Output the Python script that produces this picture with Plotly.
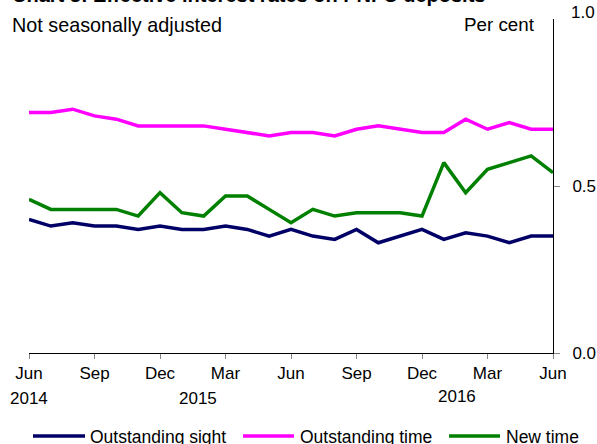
import plotly.graph_objects as go

months = ["Jun 2014", "Jul 2014", "Aug 2014", "Sep 2014", "Oct 2014", "Nov 2014", "Dec 2014",
          "Jan 2015", "Feb 2015", "Mar 2015", "Apr 2015", "May 2015", "Jun 2015", "Jul 2015",
          "Aug 2015", "Sep 2015", "Oct 2015", "Nov 2015", "Dec 2015", "Jan 2016", "Feb 2016",
          "Mar 2016", "Apr 2016", "May 2016", "Jun 2016"]
outstanding_sight = [0.40, 0.38, 0.39, 0.38, 0.38, 0.37, 0.38, 0.37, 0.37, 0.38, 0.37, 0.35, 0.37,
                     0.35, 0.34, 0.37, 0.33, 0.35, 0.37, 0.34, 0.36, 0.35, 0.33, 0.35, 0.35]
outstanding_time = [0.72, 0.72, 0.73, 0.71, 0.70, 0.68, 0.68, 0.68, 0.68, 0.67, 0.66, 0.65, 0.66,
                    0.66, 0.65, 0.67, 0.68, 0.67, 0.66, 0.66, 0.70, 0.67, 0.69, 0.67, 0.67]
new_time = [0.46, 0.43, 0.43, 0.43, 0.43, 0.41, 0.48, 0.42, 0.41, 0.47, 0.47, 0.43, 0.39,
            0.43, 0.41, 0.42, 0.42, 0.42, 0.41, 0.57, 0.48, 0.55, 0.57, 0.59, 0.54]
tick_months = ["Jun 2014", "Sep 2014", "Dec 2014", "Mar 2015", "Jun 2015", "Sep 2015",
               "Dec 2015", "Mar 2016", "Jun 2016"]
tick_text = ["Jun", "Sep", "Dec", "Mar", "Jun", "Sep", "Dec", "Mar", "Jun"]
year_labels = ["2014", "2015", "2016"]
y_ticks = [0.0, 0.5, 1.0]
y_tick_text = ["0.0", "0.5", "1.0"]

series = [("Outstanding sight", outstanding_sight, "#000066"),
          ("Outstanding time", outstanding_time, "#FF00FF"),
          ("New time", new_time, "#008000")]

W, H = 597, 444
L, R, T, B = 29, 44, 19, 91
pw, ph = W - L - R, H - T - B

def px(xp):
    return (xp - L) / pw

def py(yp):
    return (H - B - yp) / ph

FONT = "Liberation Sans, Arial, sans-serif"

fig = go.Figure()
for name, vals, col in series:
    fig.add_trace(go.Scatter(x=months, y=vals, mode="lines", name=name,
                             line=dict(color=col, width=3.5), showlegend=False))

fig.update_layout(
    width=W, height=H, margin=dict(l=L, r=R, t=T, b=B, autoexpand=False),
    paper_bgcolor="white", plot_bgcolor="white",
    font=dict(family=FONT, size=17, color="black"),
    xaxis=dict(type="category", range=[0, len(months) - 1], showgrid=False, zeroline=False,
               showline=True, linecolor="black", linewidth=1, automargin=False,
               tickmode="array", tickvals=tick_months, ticktext=tick_text,
               ticks="outside", ticklen=5, tickcolor="#888888", tickfont=dict(size=17)),
    yaxis=dict(range=[0, 1], side="right", showgrid=False, zeroline=False,
               showline=True, linecolor="black", linewidth=1, automargin=False,
               tickmode="array", tickvals=y_ticks[:2], ticktext=y_tick_text[:2],
               ticks="outside", ticklen=6, tickcolor="#888888", tickfont=dict(size=17),
               ticklabelstandoff=9),
)

ann = []
# title (cut off at top, as in the reference)
ann.append(dict(text="<b>Chart 3: Effective interest rates on PNFC deposits</b>", x=px(10), y=py(3.5),
                xref="paper", yref="paper", xanchor="left", yanchor="bottom", showarrow=False,
                font=dict(size=20), yshift=-4))
ann.append(dict(text="Not seasonally adjusted", x=px(10), y=py(24.5), xref="paper", yref="paper",
                xanchor="left", yanchor="middle", showarrow=False, font=dict(size=19.8)))
ann.append(dict(text="Per cent", x=px(537), y=py(24.5), xref="paper", yref="paper",
                xanchor="right", yanchor="middle", showarrow=False, font=dict(size=18.8)))
ann.append(dict(text=y_tick_text[2], x=1, y=1, xref="paper", yref="paper", xanchor="left",
                yanchor="middle", xshift=16, yshift=7, showarrow=False, font=dict(size=17)))
# year labels
for yr, xc, yc in zip(year_labels, [28.7, 197.7, 457.3], [398.3, 398.3, 396.7]):
    ann.append(dict(text=yr, x=px(xc), y=py(yc), xref="paper", yref="paper", xanchor="center",
                    yanchor="middle", showarrow=False, font=dict(size=17)))
# legend (drawn manually to match the long line samples)
shapes = []
leg = [(33, 85, 88), (243, 294, 298), (449, 500, 504)]
for (name, vals, col), (x0, x1, xt) in zip(series, leg):
    shapes.append(dict(type="line", xref="paper", yref="paper", x0=px(x0), x1=px(x1),
                       y0=py(436), y1=py(436), line=dict(color=col, width=3.5)))
    ann.append(dict(text=name, x=px(xt), y=py(437), xref="paper", yref="paper", xanchor="left",
                    yanchor="middle", showarrow=False, font=dict(size=17.5)))
fig.update_layout(annotations=ann, shapes=shapes)

fig.write_html("out.html", config={"displayModeBar": False},
               post_script="document.body.style.margin='0';")
